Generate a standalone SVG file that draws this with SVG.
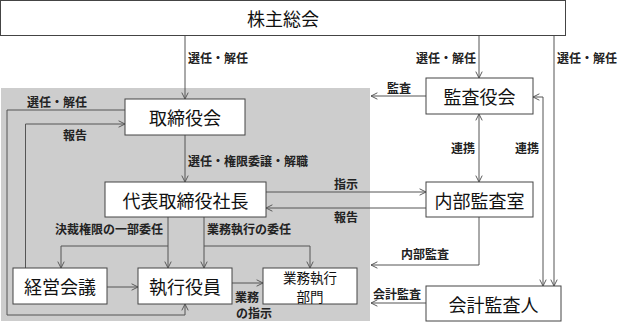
<svg xmlns="http://www.w3.org/2000/svg" width="619" height="322" viewBox="0 0 619 322">
<style>
.box{fill:#fff;stroke:#444;stroke-width:1}
.nt{font-family:"Noto Sans CJK JP","Noto Sans",sans-serif;font-size:18px;fill:#111;text-anchor:middle;dominant-baseline:central}
.ns{font-family:"Noto Sans CJK JP","Noto Sans",sans-serif;font-size:13.5px;fill:#111;text-anchor:middle;dominant-baseline:central}
.el{font-family:"Noto Sans CJK JP","Noto Sans",sans-serif;font-size:12px;font-weight:bold;fill:#222;dominant-baseline:central}
.c{fill:none;stroke:#555;stroke-width:1}
</style>
<defs>
<marker id="a" viewBox="0 0 10 10" refX="10" refY="5" markerWidth="8" markerHeight="8" orient="auto-start-reverse" markerUnits="userSpaceOnUse">
<path d="M2,1 L10,5 L2,9" fill="none" stroke="#555" stroke-width="1.2"/>
</marker>
</defs>
<rect x="1" y="88" width="369" height="233" fill="#cdcdcd"/>
<g id="connectors">
<path class="c" d="M185,36 V99" marker-end="url(#a)"/>
<path class="c" d="M479,36 V78" marker-end="url(#a)"/>
<path class="c" d="M554,36 V286" marker-end="url(#a)"/>
<path class="c" d="M426,96 H371" marker-end="url(#a)"/>
<path class="c" d="M479,114 V182" marker-start="url(#a)" marker-end="url(#a)"/>
<path class="c" d="M533,97 H543 V286" marker-start="url(#a)" marker-end="url(#a)"/>
<path class="c" d="M185,135 V182" marker-end="url(#a)"/>
<path class="c" d="M266,192 H426" marker-end="url(#a)"/>
<path class="c" d="M426,208 H266" marker-end="url(#a)"/>
<path class="c" d="M479,217 V265 H371" marker-end="url(#a)"/>
<path class="c" d="M426,303 H371" marker-end="url(#a)"/>
<path class="c" d="M125,110 H7 V315 H185 V304" marker-end="url(#a)"/>
<path class="c" d="M25.5,268 V124 H125" marker-end="url(#a)"/>
<path class="c" d="M168,217 V268" marker-end="url(#a)"/>
<path class="c" d="M204,217 V268" marker-end="url(#a)"/>
<path class="c" d="M168,246 H61 V268" marker-end="url(#a)"/>
<path class="c" d="M204,246 H310 V268" marker-end="url(#a)"/>
<path class="c" d="M107,287 H138" marker-end="url(#a)"/>
<path class="c" d="M232,283 H263" marker-end="url(#a)"/>
<text class="el" x="188" y="57">選任・解任</text>
<text class="el" x="476" y="57" text-anchor="end">選任・解任</text>
<text class="el" x="557" y="57">選任・解任</text>
<text class="el" x="399" y="87" text-anchor="middle">監査</text>
<text class="el" x="463" y="147" text-anchor="middle">連携</text>
<text class="el" x="527" y="147" text-anchor="middle">連携</text>
<text class="el" x="188" y="160">選任・権限委譲・解職</text>
<text class="el" x="346" y="183" text-anchor="middle">指示</text>
<text class="el" x="346" y="216" text-anchor="middle">報告</text>
<text class="el" x="425" y="253" text-anchor="middle">内部監査</text>
<text class="el" x="397" y="293" text-anchor="middle">会計監査</text>
<text class="el" x="57" y="101" text-anchor="middle">選任・解任</text>
<text class="el" x="75" y="134" text-anchor="middle">報告</text>
<text class="el" x="163" y="228" text-anchor="end">決裁権限の一部委任</text>
<text class="el" x="207" y="228">業務執行の委任</text>
<text class="el" x="235" y="296">業務</text>
<text class="el" x="236" y="312">の指示</text>
</g>
<g id="n-shareholders"><rect class="box" x="0.5" y="0.5" width="565" height="35"/><text class="nt" x="283" y="18">株主総会</text></g>
<g id="n-board"><rect class="box" x="125" y="99" width="120" height="36"/><text class="nt" x="185" y="117">取締役会</text></g>
<g id="n-auditboard"><rect class="box" x="426" y="78" width="107" height="36"/><text class="nt" x="479.5" y="96">監査役会</text></g>
<g id="n-president"><rect class="box" x="105" y="182" width="161" height="35"/><text class="nt" x="185.5" y="199.5">代表取締役社長</text></g>
<g id="n-internalaudit"><rect class="box" x="426" y="182" width="107" height="35"/><text class="nt" x="479.5" y="199.5">内部監査室</text></g>
<g id="n-mgmt"><rect class="box" x="13" y="268" width="94" height="36"/><text class="nt" x="60" y="286">経営会議</text></g>
<g id="n-officers"><rect class="box" x="138" y="268" width="94" height="36"/><text class="nt" x="185" y="286">執行役員</text></g>
<g id="n-dept"><rect class="box" x="263" y="268" width="94" height="36"/><text class="ns" x="310" y="277">業務執行</text><text class="ns" x="310" y="296">部門</text></g>
<g id="n-accountant"><rect class="box" x="426" y="286" width="135" height="35"/><text class="nt" x="493.5" y="303.5">会計監査人</text></g>
</svg>
